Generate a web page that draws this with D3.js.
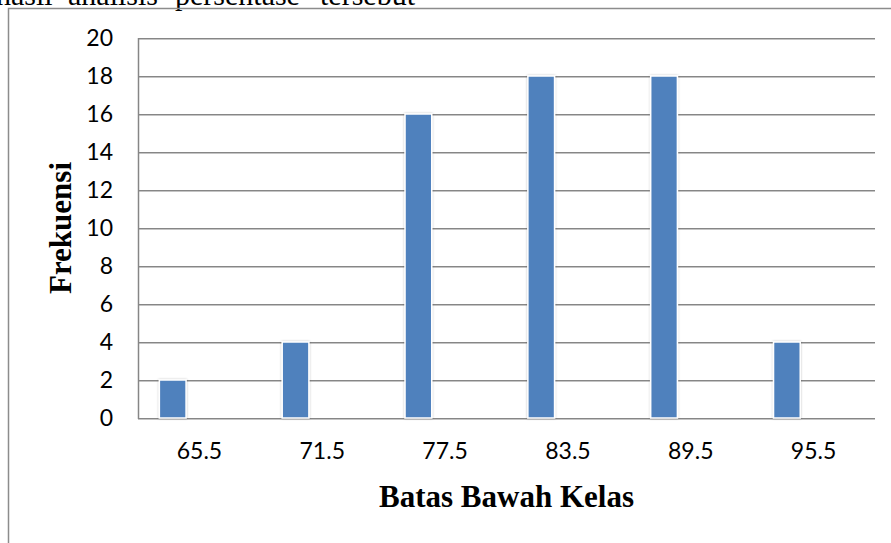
<!DOCTYPE html>
<html>
<head>
<meta charset="utf-8">
<script src="https://cdn.jsdelivr.net/npm/d3@7"></script>
<style>
  html, body { margin: 0; padding: 0; background: #fff; }
  svg { display: block; }
</style>
</head>
<body>
<svg id="chart" width="891" height="543"></svg>
<script>
// ---- data ----
const categories = ["65.5", "71.5", "77.5", "83.5", "89.5", "95.5"];
const frekuensi = [2, 4, 16, 18, 18, 4];
const seriesSlots = ["Frekuensi", "slot2", "slot3"]; // Excel cluster slots; only first series has bars
const yTicks = [0, 2, 4, 6, 8, 10, 12, 14, 16, 18, 20];
const xTitle = "Batas Bawah Kelas";
const yTitle = "Frekuensi";
const headerWords = [["hasil", -4], ["analisis", 68], ["persentase", 175], ["tersebut", 320]];

// ---- layout ----
const svg = d3.select("#chart");
const plot = { left: 138, right: 875, top: 38, bottom: 418 };

const x = d3.scaleBand().domain(categories).range([plot.left, plot.right]).paddingInner(0).paddingOuter(0);
const xs = d3.scaleBand().domain(seriesSlots).range([0, x.bandwidth()]).paddingInner(0).paddingOuter(0.8);
const y = d3.scaleLinear().domain([0, 20]).range([plot.bottom, plot.top]);

// filter for bar shadow
const defs = svg.append("defs");
const f = defs.append("filter").attr("id", "sh").attr("x", "-30%").attr("y", "-10%").attr("width", "160%").attr("height", "120%");
f.append("feDropShadow").attr("dx", 0).attr("dy", 0).attr("stdDeviation", 1.2).attr("flood-color", "#000").attr("flood-opacity", 0.25);

// header text (cut off at top, as in the reference)
svg.append("g").selectAll("text").data(headerWords).join("text")
  .attr("x", d => d[1]).attr("y", 5)
  .attr("font-family", "'Liberation Serif', 'Times New Roman', serif")
  .attr("font-size", 30).attr("fill", "#000")
  .text(d => d[0]);

// outer frame (partial)
svg.append("path")
  .attr("d", "M8.5,543 L8.5,8.5 L891,8.5")
  .attr("fill", "none").attr("stroke", "#8c8c8c").attr("stroke-width", 1.5);

// gridlines
const grid = svg.append("g");
yTicks.forEach(t => {
  const yy = Math.round(y(t));
  grid.append("line").attr("x1", plot.left).attr("x2", plot.right)
    .attr("y1", yy + 1.5).attr("y2", yy + 1.5).attr("stroke", "#c4c4c4").attr("stroke-width", 1);
  grid.append("line").attr("x1", plot.left).attr("x2", plot.right)
    .attr("y1", yy + 0.5).attr("y2", yy + 0.5).attr("stroke", "#868686").attr("stroke-width", 1);
});

// y axis line
svg.append("line").attr("x1", plot.left + 0.5).attr("x2", plot.left + 0.5)
  .attr("y1", plot.top).attr("y2", plot.bottom + 1)
  .attr("stroke", "#868686").attr("stroke-width", 1.5);

// y tick labels
const yAxis = d3.axisLeft(y).tickValues(yTicks).tickSize(0).tickPadding(25).tickFormat(d3.format("d"));
const ya = svg.append("g").attr("transform", `translate(${plot.left},0)`).call(yAxis);
ya.select(".domain").remove();
ya.selectAll("text").attr("font-family", "Lato, 'Open Sans', sans-serif").attr("font-size", 23).attr("fill", "#000");

// bars
svg.append("g").selectAll("rect").data(frekuensi).join("rect")
  .attr("x", (d, i) => x(categories[i]) + xs(seriesSlots[0]))
  .attr("width", xs.bandwidth())
  .attr("y", d => y(d))
  .attr("height", d => y(0) - y(d))
  .attr("fill", "#4F81BD")
  .attr("stroke", "#ffffff").attr("stroke-width", 1.5)
  .attr("filter", "url(#sh)");

// x tick labels
const xAxis = d3.axisBottom(x).tickSize(0).tickPadding(25);
const xa = svg.append("g").attr("transform", `translate(0,${plot.bottom})`).call(xAxis);
xa.select(".domain").remove();
xa.selectAll("text").attr("font-family", "Lato, 'Open Sans', sans-serif").attr("font-size", 23).attr("fill", "#000");

// axis titles
svg.append("text")
  .attr("x", (plot.left + plot.right) / 2).attr("y", 507)
  .attr("text-anchor", "middle")
  .attr("font-family", "'Liberation Serif', 'Times New Roman', serif")
  .attr("font-weight", "bold").attr("font-size", 31).attr("fill", "#000")
  .text(xTitle);

svg.append("text")
  .attr("transform", `translate(71,${(plot.top + plot.bottom) / 2}) rotate(-90)`)
  .attr("text-anchor", "middle")
  .attr("font-family", "'Liberation Serif', 'Times New Roman', serif")
  .attr("font-weight", "bold").attr("font-size", 31).attr("fill", "#000")
  .text(yTitle);
</script>
</body>
</html>
